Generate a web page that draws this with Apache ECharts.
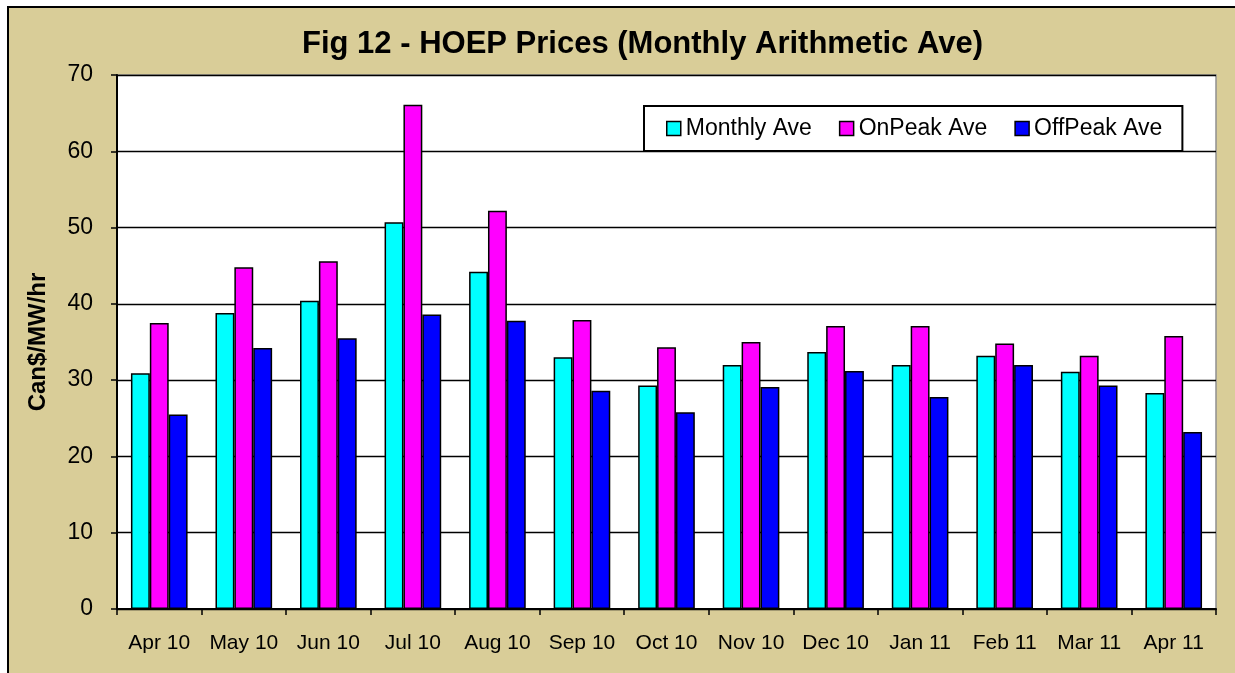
<!DOCTYPE html>
<html>
<head>
<meta charset="utf-8">
<script src="https://cdn.jsdelivr.net/npm/echarts@6/dist/echarts.min.js"></script>
<style>
html,body{margin:0;padding:0;background:#fff;}
#c{width:1235px;height:673px;}
</style>
</head>
<body>
<div id="c"></div>
<script>
const categories = ["Apr 10","May 10","Jun 10","Jul 10","Aug 10","Sep 10","Oct 10","Nov 10","Dec 10","Jan 11","Feb 11","Mar 11","Apr 11"];
const monthlyAve = [30.9, 38.8, 40.4, 50.7, 44.2, 33.0, 29.3, 32.0, 33.7, 32.0, 33.2, 31.1, 28.3];
const onPeakAve  = [37.5, 44.8, 45.6, 66.1, 52.2, 37.9, 34.3, 35.0, 37.1, 37.1, 34.8, 33.2, 35.8];
const offPeakAve = [25.5, 34.2, 35.5, 38.6, 37.8, 28.6, 25.8, 29.1, 31.2, 27.8, 32.0, 29.3, 23.2];
const seriesNames = ["Monthly Ave", "OnPeak Ave", "OffPeak Ave"];
const colors = ["#00FFFF", "#FF00FF", "#0000FF"];

const chart = echarts.init(document.getElementById('c'), null, {renderer: 'canvas'});
const font = "'Liberation Sans', Arial, sans-serif";
const mk = (name, data, color) => ({
  name: name, type: 'bar', data: data,
  itemStyle: {color: color, borderColor: '#000', borderWidth: 1.5},
  barGap: '0%', barCategoryGap: '33%', animation: false
});
chart.setOption({
  backgroundColor: '#fff',
  animation: false,
  graphic: [{
    type: 'rect', z: -10, silent: true,
    shape: {x: 8, y: 7, width: 1240, height: 680},
    style: {fill: '#D9CD98', stroke: '#000', lineWidth: 2}
  }],
  title: {
    text: 'Fig 12 - HOEP Prices (Monthly Arithmetic Ave)',
    left: 297, top: 24,
    textStyle: {fontFamily: font, fontWeight: 'bold', fontSize: 31, color: '#000'}
  },
  legend: {
    data: seriesNames,
    left: 644, top: 106,
    padding: [11, 20, 11, 22],
    icon: 'rect',
    itemWidth: 14, itemHeight: 14, itemGap: 27,
    backgroundColor: '#fff', borderColor: '#000', borderWidth: 2,
    textStyle: {fontFamily: font, fontSize: 23, color: '#000'},
    itemStyle: {borderColor: '#000', borderWidth: 1.5}
  },
  grid: {
    left: 117, right: 19, top: 75, bottom: 64,
    show: true, backgroundColor: '#fff', borderColor: '#909090', borderWidth: 1.5
  },
  xAxis: {
    type: 'category', data: categories,
    axisLine: {lineStyle: {color: '#000', width: 2}},
    axisTick: {show: true, length: 6, lineStyle: {color: '#000', width: 1.5}},
    axisLabel: {interval: 0, fontFamily: font, fontSize: 21, color: '#000', margin: 24}
  },
  yAxis: {
    type: 'value', min: 0, max: 70, interval: 10,
    name: 'Can$/MW/hr', nameLocation: 'middle', nameGap: 67, nameRotate: 90,
    nameTextStyle: {fontFamily: font, fontWeight: 'bold', fontSize: 24, color: '#000'},
    axisLine: {show: true, lineStyle: {color: '#000', width: 2}},
    axisTick: {show: true, length: 6, lineStyle: {color: '#000', width: 1.5}},
    axisLabel: {fontFamily: font, fontSize: 23, color: '#000', margin: 24},
    splitLine: {lineStyle: {color: '#000', width: 1.3}}
  },
  series: [
    mk(seriesNames[0], monthlyAve, colors[0]),
    mk(seriesNames[1], onPeakAve, colors[1]),
    mk(seriesNames[2], offPeakAve, colors[2])
  ]
});
</script>
</body>
</html>
